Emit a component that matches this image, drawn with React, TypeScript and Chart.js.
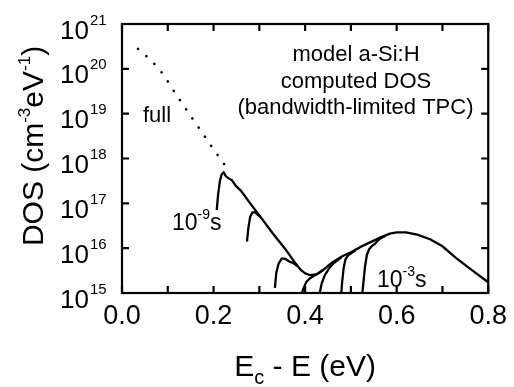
import { useEffect, useRef } from 'react';
import { Chart, registerables } from 'chart.js';
Chart.register(...registerables);

const FONT = "'Liberation Sans', Arial, Helvetica, sans-serif";

// Energy (eV) and DOS (cm^-3 eV^-1) values
const fullX = [0.035, 0.065, 0.09, 0.12, 0.15, 0.18, 0.2, 0.225];
const fullY = [2.8e20, 1.5e20, 7.6e19, 2.5e19, 8.9e18, 3.2e18, 1.6e18, 7.1e17];

const t9X = [0.207, 0.21, 0.214, 0.218, 0.222, 0.227, 0.233, 0.24, 0.248, 0.26, 0.28, 0.3, 0.33, 0.357, 0.375, 0.39, 0.4, 0.41, 0.425, 0.44, 0.457, 0.48, 0.5, 0.529, 0.565, 0.585, 0.6, 0.62, 0.645, 0.673, 0.7, 0.73, 0.76, 0.8];
const t9Y = [7.1e16, 1.6e17, 3.2e17, 4.5e17, 4.9e17, 4.0e17, 3.6e17, 3.3e17, 2.5e17, 1.9e17, 1.0e17, 5.4e16, 2.1e16, 9.5e15, 5.2e15, 3.3e15, 2.75e15, 2.5e15, 2.6e15, 3.3e15, 4.6e15, 6.5e15, 8.1e15, 1.17e16, 1.74e16, 2.1e16, 2.24e16, 2.24e16, 2.0e16, 1.58e16, 1.1e16, 6.0e15, 3.5e15, 1.74e15];

const t8X = [0.273, 0.276, 0.28, 0.285, 0.291, 0.297, 0.303];
const t8Y = [1.4e16, 2.8e16, 5.0e16, 6.3e16, 6.3e16, 5.5e16, 4.9e16];

const t7X = [0.334, 0.337, 0.342, 0.349, 0.357, 0.366, 0.375, 0.383];
const t7Y = [1.3e15, 2.8e15, 4.5e15, 5.9e15, 5.75e15, 5.0e15, 4.6e15, 4.0e15];

const t6X = [0.393, 0.397, 0.403, 0.41, 0.42, 0.43, 0.44];
const t6Y = [1.0e15, 1.32e15, 1.78e15, 2.1e15, 2.45e15, 2.8e15, 3.3e15];

const t5X = [0.432, 0.436, 0.443, 0.452, 0.462, 0.472, 0.48];
const t5Y = [1.0e15, 1.6e15, 2.5e15, 3.5e15, 4.6e15, 5.5e15, 6.3e15];

const t4X = [0.479, 0.481, 0.484, 0.488, 0.494, 0.502, 0.51];
const t4Y = [1.0e15, 1.8e15, 3.5e15, 5.6e15, 6.9e15, 7.9e15, 8.9e15];

const t3X = [0.525, 0.528, 0.531, 0.535, 0.54, 0.546, 0.553, 0.558, 0.565, 0.575];
const t3Y = [1.0e15, 2.0e15, 4.0e15, 7.1e15, 9.5e15, 1.12e16, 1.26e16, 1.45e16, 1.66e16, 1.86e16];

const xTickValues = [0, 0.1, 0.2, 0.3, 0.4, 0.5, 0.6, 0.7, 0.8];
const yExponents = [15, 16, 17, 18, 19, 20, 21];

type Part = { t: string; size: number; dy: number };

function rich(ctx: CanvasRenderingContext2D, x: number, y: number, parts: Part[], align: 'left' | 'center' | 'right') {
  let total = 0;
  const widths = parts.map((p) => {
    ctx.font = `${p.size}px ${FONT}`;
    const w = ctx.measureText(p.t).width;
    total += w;
    return w;
  });
  let cx = align === 'left' ? x : align === 'center' ? x - total / 2 : x - total;
  ctx.textAlign = 'left';
  ctx.textBaseline = 'alphabetic';
  parts.forEach((p, i) => {
    ctx.font = `${p.size}px ${FONT}`;
    ctx.fillText(p.t, cx, y + p.dy);
    cx += widths[i];
  });
}

function pts(xs: number[], ys: number[]) {
  return xs.map((x, i) => ({ x, y: ys[i] }));
}

export default function App() {
  const ref = useRef<HTMLCanvasElement>(null);
  useEffect(() => {
    const canvas = ref.current!;
    const decor = {
      id: 'decor',
      afterDraw(chart: any) {
        const { ctx, chartArea: a, scales } = chart;
        const xs = scales.x;
        const ys = scales.y;
        ctx.save();
        ctx.strokeStyle = '#000';
        ctx.fillStyle = '#000';
        ctx.lineWidth = 2.2;
        ctx.strokeRect(a.left, a.top, a.right - a.left, a.bottom - a.top);
        ctx.beginPath();
        for (const v of xTickValues) {
          const px = xs.getPixelForValue(v);
          ctx.moveTo(px, a.bottom);
          ctx.lineTo(px, a.bottom - 7);
          ctx.moveTo(px, a.top);
          ctx.lineTo(px, a.top + 7);
        }
        for (const e of yExponents) {
          const py = ys.getPixelForValue(Math.pow(10, e));
          ctx.moveTo(a.left, py);
          ctx.lineTo(a.left + 7, py);
          ctx.moveTo(a.right, py);
          ctx.lineTo(a.right - 7, py);
        }
        ctx.stroke();

        // y tick labels
        for (const e of yExponents) {
          const py = ys.getPixelForValue(Math.pow(10, e));
          ctx.font = `26px ${FONT}`;
          ctx.textAlign = 'right';
          ctx.textBaseline = 'alphabetic';
          ctx.fillText('10', 89, py + 14.5);
          ctx.font = `15px ${FONT}`;
          ctx.textAlign = 'left';
          ctx.fillText(String(e), 90, py + 0.5);
        }

        // y title
        ctx.save();
        ctx.translate(43, 146);
        ctx.rotate(-Math.PI / 2);
        rich(ctx, 0, 0, [
          { t: 'DOS (cm', size: 30, dy: 0 },
          { t: '-3', size: 17, dy: -13 },
          { t: 'eV', size: 30, dy: 0 },
          { t: '-1', size: 17, dy: -13 },
          { t: ')', size: 30, dy: 0 },
        ], 'center');
        ctx.restore();

        // x title
        rich(ctx, (a.left + a.right) / 2, 376, [
          { t: 'E', size: 30, dy: 0 },
          { t: 'c', size: 20, dy: 8 },
          { t: ' - E (eV)', size: 30, dy: 0 },
        ], 'center');

        // annotations
        ctx.font = `22px ${FONT}`;
        ctx.textAlign = 'center';
        ctx.textBaseline = 'alphabetic';
        ctx.fillText('model a-Si:H', 356, 61);
        ctx.fillText('computed DOS', 356, 87.5);
        ctx.fillText('(bandwidth-limited TPC)', 355.5, 114);
        ctx.textAlign = 'left';
        ctx.fillText('full', 143, 122);
        rich(ctx, 172, 230, [
          { t: '10', size: 23, dy: 0 },
          { t: '-9', size: 14, dy: -11 },
          { t: 's', size: 23, dy: 0 },
        ], 'left');
        rich(ctx, 377, 287, [
          { t: '10', size: 23, dy: 0 },
          { t: '-3', size: 14, dy: -11 },
          { t: 's', size: 23, dy: 0 },
        ], 'left');
        ctx.restore();
      },
    };

    const solid = (data: { x: number; y: number }[]) => ({
      data,
      borderColor: '#000',
      borderWidth: 2.3,
      pointRadius: 0,
      fill: false,
      tension: 0,
    });

    const chart = new Chart(canvas, {
      type: 'line',
      data: {
        datasets: [
          {
            data: pts(fullX, fullY),
            borderColor: '#000',
            borderWidth: 2.6,
            borderDash: [0.1, 11],
            borderCapStyle: 'round',
            pointRadius: 0,
            fill: false,
          } as any,
          solid(pts(t9X, t9Y)),
          solid(pts(t8X, t8Y)),
          solid(pts(t7X, t7Y)),
          solid(pts(t6X, t6Y)),
          solid(pts(t5X, t5Y)),
          solid(pts(t4X, t4Y)),
          solid(pts(t3X, t3Y)),
        ],
      },
      options: {
        responsive: false,
        animation: false,
        events: [],
        layout: { padding: { top: 24, right: 22, left: 0, bottom: 0 } },
        plugins: { legend: { display: false }, tooltip: { enabled: false } },
        scales: {
          x: {
            type: 'linear',
            min: 0,
            max: 0.8,
            grid: { display: false, drawTicks: false },
            border: { display: false },
            ticks: {
              stepSize: 0.1,
              autoSkip: false,
              maxRotation: 0,
              minRotation: 0,
              padding: 7,
              color: '#000',
              font: { family: FONT, size: 27 },
              callback: (value: any) => {
                const v = Math.round(Number(value) * 10);
                return v % 2 === 0 ? (v / 10).toFixed(1) : '';
              },
            },
            afterFit: (s: any) => {
              s.height = 94;
            },
          },
          y: {
            type: 'logarithmic',
            min: 1e15,
            max: 1e21,
            grid: { display: false, drawTicks: false },
            border: { display: false },
            ticks: { display: false },
            afterFit: (s: any) => {
              s.width = 122;
            },
          },
        },
      } as any,
      plugins: [decor],
    });
    return () => chart.destroy();
  }, []);
  return (
    <div style={{ position: 'fixed', left: 0, top: 0, width: 514, height: 387, background: '#fff' }}>
      <canvas ref={ref} width={514} height={387} />
    </div>
  );
}
